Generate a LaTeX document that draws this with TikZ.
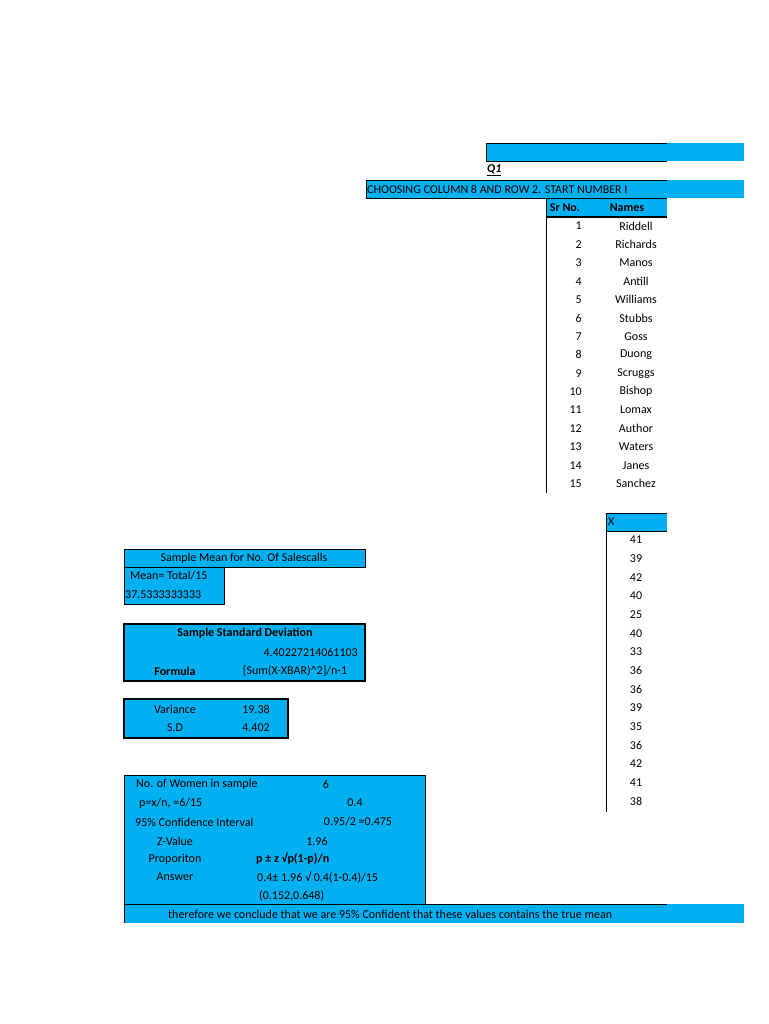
\documentclass[tikz,border=0pt]{standalone}
\usepackage{fontspec}
\setmainfont{Carlito}
\usepackage{xcolor}
\definecolor{cellblue}{RGB}{0,176,240}
\usetikzlibrary{positioning}
\tikzset{
  cell/.style={fill=cellblue},
  txt/.style={inner sep=0pt,anchor=center,font=\fontsize{12}{14}\selectfont},
  ltxt/.style={txt,anchor=west},
  rtxt/.style={txt,anchor=east},
  thick border/.style={draw=black,line width=1.6pt}
}
\begin{document}
\begin{tikzpicture}[x=1pt,y=-1pt]
  \useasboundingbox (0,0) rectangle (768,1024);
  % top header
  \fill[cell] (486,143) rectangle (744,161);
  \draw (486,143) -- (667,143) (486,143) -- (486,161) -- (667,161);
  \node[ltxt] (q1) at (487,170) {\textbf{\textit{\underline{Q1}}}};
  \fill[cell] (366,180) rectangle (744,198);
  \draw (366,198) -- (366,180) -- (667,180) (366,198) -- (667,198);
  \node[ltxt] (choose) at (367,189) {CHOOSING COLUMN 8 AND ROW 2. START NUMBER I};
  % names table
  \fill[cell] (546,199) rectangle (667,217);
  \node[txt] (srno) at (565,208) {\textbf{Sr No.}};
  \node[txt] (names) at (627,208) {\textbf{Names}};
  \draw[line width=1.4pt] (546,217) -- (667,217);
  \draw (546,199) -- (546,493);
  \foreach \i/\n in {1/Riddell,2/Richards,3/Manos,4/Antill,5/Williams,6/Stubbs,7/Goss,8/Duong,
      9/Scruggs,10/Bishop,11/Lomax,12/Author,13/Waters,14/Janes,15/Sanchez}
  {
    \node[rtxt] (sr\i) at (582,{226+18.4*(\i-1)}) {\i};
    \node[txt] (nm\i) at (636,{226+18.4*(\i-1)}) {\n};
  }
  % X column
  \fill[cell] (606,513) rectangle (667,531);
  \draw (606,513) -- (667,513) (606,513) -- (606,812) (606,531) -- (667,531);
  \node[ltxt] (xhead) at (608,522) {X};
  \foreach \v [count=\i] in {41,39,42,40,25,40,33,36,36,39,35,36,42,41,38}
    \node[txt] (xv\i) at (636,{540+18.64*(\i-1)}) {\v};
  % sample mean
  \fill[cell] (124,549) rectangle (365,567);
  \draw (124,549) rectangle (365,567);
  \node[txt] (meantitle) at (244,558) {Sample Mean for No. Of Salescalls};
  \fill[cell] (124,567) rectangle (224,604);
  \draw (124,567) rectangle (224,604);
  \node[ltxt] (meanf) at (130,576) {Mean= Total/15};
  \node[ltxt] (meanv) at (125,595) {37.5333333333};
  % standard deviation
  \fill[cell] (124,624) rectangle (365,681);
  \draw[thick border] (124,624) rectangle (365,681);
  \node[txt] (sdtitle) at (245,633) {\textbf{Sample Standard Deviation}};
  \node[rtxt] (sdval) at (358,652) {4.40227214061103};
  \node[txt] (formula) at (175,671) {\textbf{Formula}};
  \node[txt] (formv) at (295,671) {[Sum(X-XBAR)\^{}2]/n-1};
  % variance
  \fill[cell] (124,699) rectangle (288,738);
  \draw[thick border] (124,699) rectangle (288,738);
  \node[txt] (var) at (175,709) {Variance};
  \node[txt] (varv) at (256,709) {19.38};
  \node[txt] (sd) at (175,728) {S.D};
  \node[txt] (sdv) at (256,728) {4.402};
  % proportion
  \fill[cell] (124,775) rectangle (425,904);
  \draw (124,775) rectangle (425,904);
  \node[ltxt] (women) at (136,784) {No. of Women in sample};
  \node[txt] (womenv) at (326,784) {6};
  \node[ltxt] (pxn) at (139,803) {p=x/n, =6/15};
  \node[txt] (pxnv) at (355,803) {0.4};
  \node[ltxt] (ci) at (135,822) {95\% Confidence Interval};
  \node[txt] (civ) at (358,822) {0.95/2 =0.475};
  \node[txt] (z) at (175,841) {Z-Value};
  \node[txt] (zv) at (317,841) {1.96};
  \node[txt] (prop) at (175,859) {Proporiton};
  \node[ltxt] (propv) at (256,859) {\textbf{p ± z √p(1-p)/n}};
  \node[txt] (ans) at (175,877) {Answer};
  \node[ltxt] (ansv) at (257,877) {0.4± 1.96 √ 0.4(1-0.4)/15};
  \node[ltxt] (ansi) at (259,896) {(0.152,0.648)};
  % conclusion
  \fill[cell] (124,904) rectangle (744,923);
  \draw (124,923) -- (124,904) -- (667,904);
  \begin{scope}
    \clip (124,900) rectangle (667,926);
    \node[ltxt] (concl) at (168,914) {therefore we conclude that we are 95\% Confident that these values contains the true mean};
  \end{scope}
\end{tikzpicture}
\end{document}
